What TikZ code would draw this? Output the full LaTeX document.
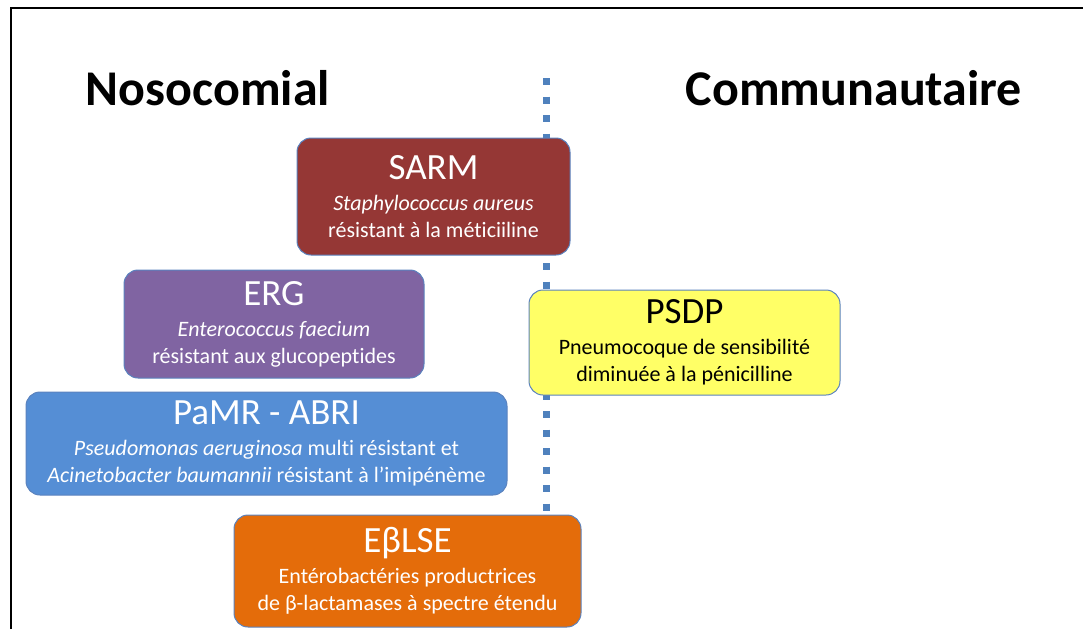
\documentclass[tikz,border=0pt]{standalone}
\usepackage{fontspec}
\setmainfont{Carlito}[Ligatures=NoCommon,Contextuals=NoAlternate,RawFeature={-clig;-dlig}]
\usepackage{tikz}
\usetikzlibrary{positioning,calc}
\definecolor{sarmred}{RGB}{149,55,53}
\definecolor{ergviolet}{RGB}{128,100,162}
\definecolor{pamrblue}{RGB}{85,142,213}
\definecolor{esblorange}{RGB}{228,108,10}
\definecolor{psdpyellow}{RGB}{255,255,102}
\definecolor{boxline}{RGB}{90,130,190}
\definecolor{dotblue}{RGB}{79,129,189}

\begin{document}
\begin{tikzpicture}[x=1pt,y=-1pt,
	box/.style={draw=boxline,line width=1pt,rounded corners=14pt,align=center,
		inner sep=0pt,text=white,font=\fontsize{22}{27}\selectfont},
	head/.style={font=\fontsize{50}{60}\selectfont\bfseries,anchor=base},
	dots/.style={dotblue,line width=7pt,dash pattern=on 7pt off 11.5pt}]
	\useasboundingbox (0,0) rectangle (1083,629);
	\draw[line width=2pt] (11,629) -- (11,8) -- (1083,8);
	\node[head] (noso) at (208,105) {Nosocomial};
	\node[head] (comm) at (854,105) {Communautaire};
	\coordinate (top) at (546,78);
	\coordinate (bot) at (546,516);
	\draw[dots] (top) -- (bot);
	\node[box,fill=sarmred,minimum width=273pt,minimum height=117pt] (sarm) at (433.5,196.5)
		{{\fontsize{37}{37}\selectfont SARM}\\[4pt]
		\textit{Staphylococcus aureus}\\ résistant à la méticiiline};
	\node[box,fill=ergviolet,minimum width=300pt,minimum height=108pt] (erg) at (274,324)
		{{\fontsize{37}{37}\selectfont ERG}\\[4pt]
		\textit{Enterococcus faecium}\\ résistant aux glucopeptides};
	\node[box,fill=pamrblue,minimum width=481pt,minimum height=103pt] (pamr) at (266.5,443.5)
		{{\fontsize{37}{37}\selectfont PaMR - ABRI}\\[4pt]
		\textit{Pseudomonas aeruginosa} multi résistant et\\
		\textit{Acinetobacter baumannii} résistant à l’imipénème};
	\node[box,fill=esblorange,minimum width=347pt,minimum height=112pt] (esbl) at (407.5,571)
		{{\fontsize{37}{37}\selectfont EβLSE}\\[4pt]
		Entérobactéries productrices\\ de β-lactamases à spectre étendu};
	\node[box,fill=psdpyellow,text=black,minimum width=311pt,minimum height=105pt] (psdp) at (684.5,342.5)
		{{\fontsize{37}{37}\selectfont PSDP}\\[4pt]
		Pneumocoque de sensibilité\\ diminuée à la pénicilline};
\end{tikzpicture}
\end{document}
